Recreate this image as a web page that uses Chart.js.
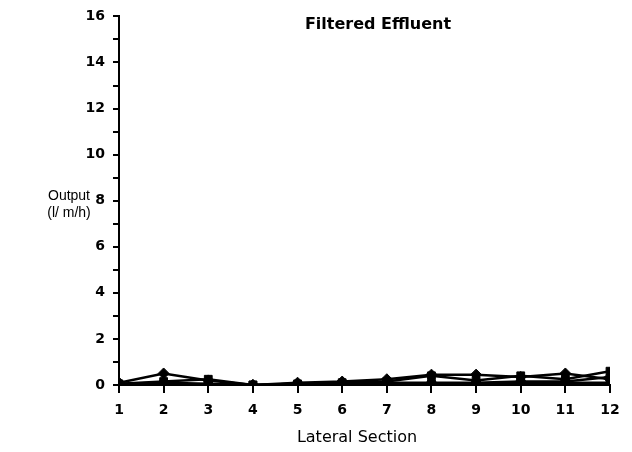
<!DOCTYPE html>
<html>
<head>
<meta charset="utf-8">
<script src="https://cdn.jsdelivr.net/npm/chart.js@4/dist/chart.umd.min.js"></script>
<style>
  html, body { margin: 0; padding: 0; background: #fff; }
  #wrap { width: 632px; height: 452px; position: relative; }
</style>
</head>
<body>
<div id="wrap"><canvas id="c" width="632" height="452"></canvas></div>
<script>
// Lateral sections along the drip line
const sections = [1, 2, 3, 4, 5, 6, 7, 8, 9, 10, 11, 12];

// Emitter output per section (l/m/h), one array per run
const runA = [0.10, 0.50, 0.20, 0.00, 0.10, 0.15, 0.25, 0.45, 0.45, 0.35, 0.50, 0.25];
const runB = [0.05, 0.15, 0.25, 0.00, 0.05, 0.10, 0.15, 0.40, 0.20, 0.40, 0.25, 0.60];
const runC = [0.05, 0.10, 0.05, 0.00, 0.05, 0.10, 0.10, 0.10, 0.10, 0.15, 0.15, 0.35];
const runD = [0.00, 0.05, 0.00, 0.00, 0.00, 0.05, 0.05, 0.05, 0.05, 0.10, 0.10, 0.10];

// Axis ranges and labelled y ticks
const yMin = 0, yMax = 16;
const yLabelled = [0, 2, 4, 6, 8, 10, 12, 14, 16];

const chartTitle = 'Filtered Effluent';
const xTitle = 'Lateral Section';
const yTitleLines = ['Output', '(l/ m/h)'];

const toPoints = arr => arr.map((v, i) => ({ x: sections[i], y: v }));

function series(label, values, style) {
  return {
    label,
    data: toPoints(values),
    borderColor: '#000',
    backgroundColor: '#000',
    borderWidth: 2.5,
    pointStyle: style,
    pointRadius: 5.5,
    pointBorderWidth: 1,
    tension: 0
  };
}

// Text that sits outside the library's own title/axis slots
const annotations = {
  id: 'annotations',
  afterDraw(chart) {
    const { ctx } = chart;
    ctx.save();
    ctx.fillStyle = '#000';
    ctx.textBaseline = 'middle';
    ctx.textAlign = 'center';

    ctx.font = 'bold 16px "DejaVu Sans", sans-serif';
    ctx.fillText(chartTitle, 378, 25);

    ctx.font = '16px "DejaVu Sans", sans-serif';
    ctx.fillText(xTitle, 357, 438);

    ctx.font = '14px "Liberation Sans", Arial, sans-serif';
    ctx.fillText(yTitleLines[0], 69, 196);
    ctx.fillText(yTitleLines[1], 69, 213);
    ctx.restore();
  }
};

const tickFont = { family: '"DejaVu Sans", sans-serif', size: 14, weight: 'bold' };

new Chart(document.getElementById('c'), {
  type: 'line',
  data: {
    datasets: [
      series('A', runA, 'rectRot'),
      series('B', runB, 'rect'),
      series('C', runC, 'rectRot'),
      series('D', runD, 'rect')
    ]
  },
  options: {
    responsive: false,
    animation: false,
    layout: { padding: { top: 13, right: 22, left: 0, bottom: 0 } },
    plugins: { legend: { display: false }, tooltip: { enabled: false }, title: { display: false } },
    scales: {
      x: {
        type: 'linear',
        min: 1,
        max: 12,
        afterFit(scale) { scale.height = 67; },
        border: { display: true, color: '#000', width: 2 },
        grid: { drawOnChartArea: false, drawTicks: true, tickLength: 8, color: '#000', lineWidth: 2 },
        ticks: {
          stepSize: 1,
          padding: 9,
          color: '#000',
          font: tickFont,
          callback: v => String(v)
        }
      },
      y: {
        type: 'linear',
        min: yMin,
        max: yMax,
        afterFit(scale) { scale.width = 119; },
        border: { display: true, color: '#000', width: 2 },
        grid: { drawOnChartArea: false, drawTicks: true, tickLength: 6, color: '#000', lineWidth: 2 },
        ticks: {
          stepSize: 1,
          padding: 8,
          color: '#000',
          font: tickFont,
          callback: v => (yLabelled.includes(v) ? String(v) : '')
        }
      }
    }
  },
  plugins: [annotations]
});
</script>
</body>
</html>
